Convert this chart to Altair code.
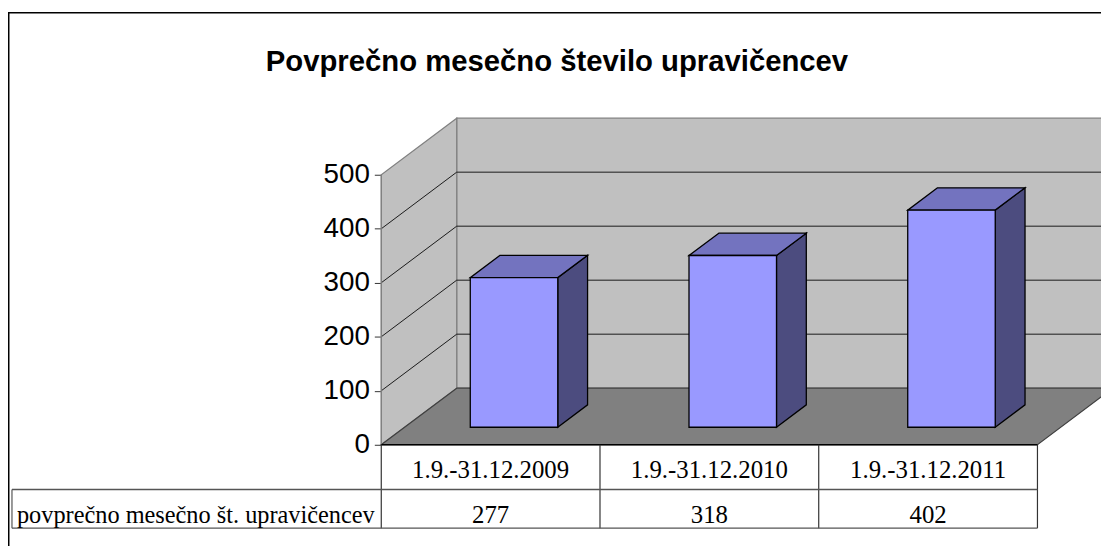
import altair as alt
import pandas as pd

# ---- data ----
categories = ["1.9.-31.12.2009", "1.9.-31.12.2010", "1.9.-31.12.2011"]
values = [277, 318, 402]
row_label = "povprečno mesečno št. upravičencev"
chart_title = "Povprečno mesečno število upravičencev"
y_ticks = [0, 100, 200, 300, 400, 500]
y_max = 500

# ---- layout (pixels) ----
W, H = 1101, 538
X0, CW = 376.0, 220.33      # front axis position, px per category
Y0, PPU = 438.0, 0.544      # zero line position, px per unit
OX = 76.0 / CW              # depth offset in category units
OY = 57.0 / PPU             # depth offset in value units
Z0, DZ = 0.31, 0.395        # bar depth start / depth
BW = 0.4                    # bar width (category units)
n = len(categories)
SERIF = "Liberation Serif, Times New Roman, serif"

xs = alt.Scale(domain=[-X0 / CW, (W - X0) / CW], nice=False, zero=False)
ys = alt.Scale(domain=[-(H - Y0) / PPU, Y0 / PPU], nice=False, zero=False)
y_axis_def = alt.Axis(values=y_ticks, offset=-X0, domain=False, grid=False,
                      ticks=True, tickSize=7, tickColor="#333333", tickWidth=1,
                      labelFont="Liberation Sans", labelFontSize=28,
                      labelColor="black", labelPadding=5, title=None,
                      labelBaseline="middle")

def X(f="x"):
    return alt.X(f"{f}:Q", scale=xs, axis=None)

def Y(f="y"):
    return alt.Y(f"{f}:Q", scale=ys, axis=y_axis_def)

# frame
frame = alt.Chart(pd.DataFrame({"a": [0]})).mark_rect(
    fill=None, stroke="black", strokeWidth=1.5
).encode(x=alt.value(0.75), x2=alt.value(1300), y=alt.value(2.75), y2=alt.value(800))

# left side wall
lw = pd.DataFrame({"x": [0, OX], "y": [0, OY], "y2": [y_max, y_max + OY], "g": [0, 0]})
left_wall = alt.Chart(lw).mark_area(
    orient="vertical", fill="#c0c0c0", stroke="#808080", strokeWidth=1.2
).encode(x=X(), y=Y(), y2="y2:Q", detail="g:N")

# back wall
bw = pd.DataFrame({"x": [OX], "x2": [n + OX], "y": [OY], "y2": [y_max + OY]})
back_wall = alt.Chart(bw).mark_rect(
    fill="#c0c0c0", stroke="#808080", strokeWidth=1.2
).encode(x=X(), x2="x2:Q", y=Y(), y2="y2:Q")

# gridlines
grid_vals = [v for v in y_ticks if 0 < v < y_max]
gb = pd.DataFrame({"x": [OX] * len(grid_vals), "x2": [n + OX] * len(grid_vals),
                   "y": [v + OY for v in grid_vals]})
grid_back = alt.Chart(gb).mark_rule(color="#1a1a1a", strokeWidth=1).encode(
    x=X(), x2="x2:Q", y=Y())
gl_rows = []
for v in grid_vals:
    gl_rows.append({"x": 0, "y": v, "g": v})
    gl_rows.append({"x": OX, "y": v + OY, "g": v})
grid_left = alt.Chart(pd.DataFrame(gl_rows)).mark_line(color="#1a1a1a", strokeWidth=1).encode(
    x=X(), y=Y(), detail="g:N")

# floor
fl = pd.DataFrame({"y": [0, OY], "x": [0, OX], "x2": [n, n + OX], "g": [0, 0]})
floor = alt.Chart(fl).mark_area(
    orient="horizontal", fill="#808080", stroke="#404040", strokeWidth=1.2
).encode(y=Y(), x=X(), x2="x2:Q", detail="g:N")

# y axis ticks / labels come from the library axis, shifted onto the front edge
axis_df = pd.DataFrame({"y": y_ticks})
y_axis = alt.Chart(axis_df).mark_point(opacity=0).encode(x=alt.value(X0), y=Y("y"))
front_edge = alt.Chart(pd.DataFrame({"y": [0], "y2": [y_max]})).mark_rule(
    color="#808080", strokeWidth=1.2
).encode(x=alt.value(X0), y=Y(), y2="y2:Q")

# bars
front_rows, top_rows, side_rows = [], [], []
for i, v in enumerate(values):
    xl = i + 0.5 - BW / 2 + Z0 * OX
    xr = i + 0.5 + BW / 2 + Z0 * OX
    yb = Z0 * OY
    yt = v + Z0 * OY
    front_rows.append({"x": xl, "x2": xr, "y": yb, "y2": yt})
    top_rows.append({"y": yt, "x": xl, "x2": xr, "g": i})
    top_rows.append({"y": yt + DZ * OY, "x": xl + DZ * OX, "x2": xr + DZ * OX, "g": i})
    side_rows.append({"x": xr, "y": yb, "y2": yt, "g": i})
    side_rows.append({"x": xr + DZ * OX, "y": yb + DZ * OY, "y2": yt + DZ * OY, "g": i})

bar_side = alt.Chart(pd.DataFrame(side_rows)).mark_area(
    orient="vertical", fill="#4c4c7f", stroke="black", strokeWidth=1.3
).encode(x=X(), y=Y(), y2="y2:Q", detail="g:N")
bar_top = alt.Chart(pd.DataFrame(top_rows)).mark_area(
    orient="horizontal", fill="#7373bf", stroke="black", strokeWidth=1.3
).encode(y=Y(), x=X(), x2="x2:Q", detail="g:N")
bar_front = alt.Chart(pd.DataFrame(front_rows)).mark_rect(
    fill="#9999ff", stroke="black", strokeWidth=1.3
).encode(x=X(), x2="x2:Q", y=Y(), y2="y2:Q")

# data table
ROW1_BOT, ROW2_BOT, LEFT_BOX = 483, 522, 4
XL = -(X0 - LEFT_BOX) / CW
vlines = pd.DataFrame({"x": list(range(n + 1))})
table_v = alt.Chart(vlines).mark_rule(color="#333333", strokeWidth=1.2).encode(
    x=X(), y=alt.value(Y0), y2=alt.value(ROW2_BOT))
table_h1 = alt.Chart(pd.DataFrame({"x": [XL], "x2": [n]})).mark_rule(
    color="#555555", strokeWidth=1.4).encode(x=X(), x2="x2:Q", y=alt.value(ROW1_BOT))
table_h2 = alt.Chart(pd.DataFrame({"x": [XL], "x2": [n]})).mark_rule(
    color="#555555", strokeWidth=1.4).encode(x=X(), x2="x2:Q", y=alt.value(ROW2_BOT))
table_top = alt.Chart(pd.DataFrame({"x": [0], "x2": [n]})).mark_rule(
    color="black", strokeWidth=1.5).encode(x=X(), x2="x2:Q", y=alt.value(Y0))
left_box = alt.Chart(pd.DataFrame({"x": [XL]})).mark_rule(
    color="#555555", strokeWidth=1.2).encode(
    x=X(), y=alt.value(ROW1_BOT), y2=alt.value(ROW2_BOT))

tab = pd.DataFrame({"x": [i + 0.5 for i in range(n)], "cat": categories,
                    "val": [str(v) for v in values]})
head_text = alt.Chart(tab).mark_text(
    font=SERIF, fontSize=25, color="black", baseline="alphabetic"
).encode(x=X(), y=alt.value(471), text="cat:N")
val_text = alt.Chart(tab).mark_text(
    font=SERIF, fontSize=25, color="black", baseline="alphabetic"
).encode(x=X(), y=alt.value(517), text="val:N")
row_text = alt.Chart(pd.DataFrame({"t": [row_label]})).mark_text(
    font=SERIF, fontSize=24.5, color="black", baseline="alphabetic", align="left"
).encode(x=alt.value(9), y=alt.value(517), text="t:N")

title_text = alt.Chart(pd.DataFrame({"t": [chart_title]})).mark_text(
    font="Liberation Sans", fontSize=29.5, fontWeight="bold", color="black",
    baseline="alphabetic", align="center"
).encode(x=alt.value(553), y=alt.value(61), text="t:N")

chart = alt.layer(
    frame, back_wall, left_wall, grid_back, grid_left, floor, front_edge, y_axis,
    bar_side, bar_top, bar_front,
    table_top, table_v, table_h1, table_h2, left_box, head_text, val_text, row_text, title_text,
).properties(
    width=W, height=H, padding=0, autosize=alt.AutoSizeParams(type="none")
).configure_view(stroke=None, clip=False)

chart.save("out.html", embed_options={"renderer": "svg", "actions": False})
